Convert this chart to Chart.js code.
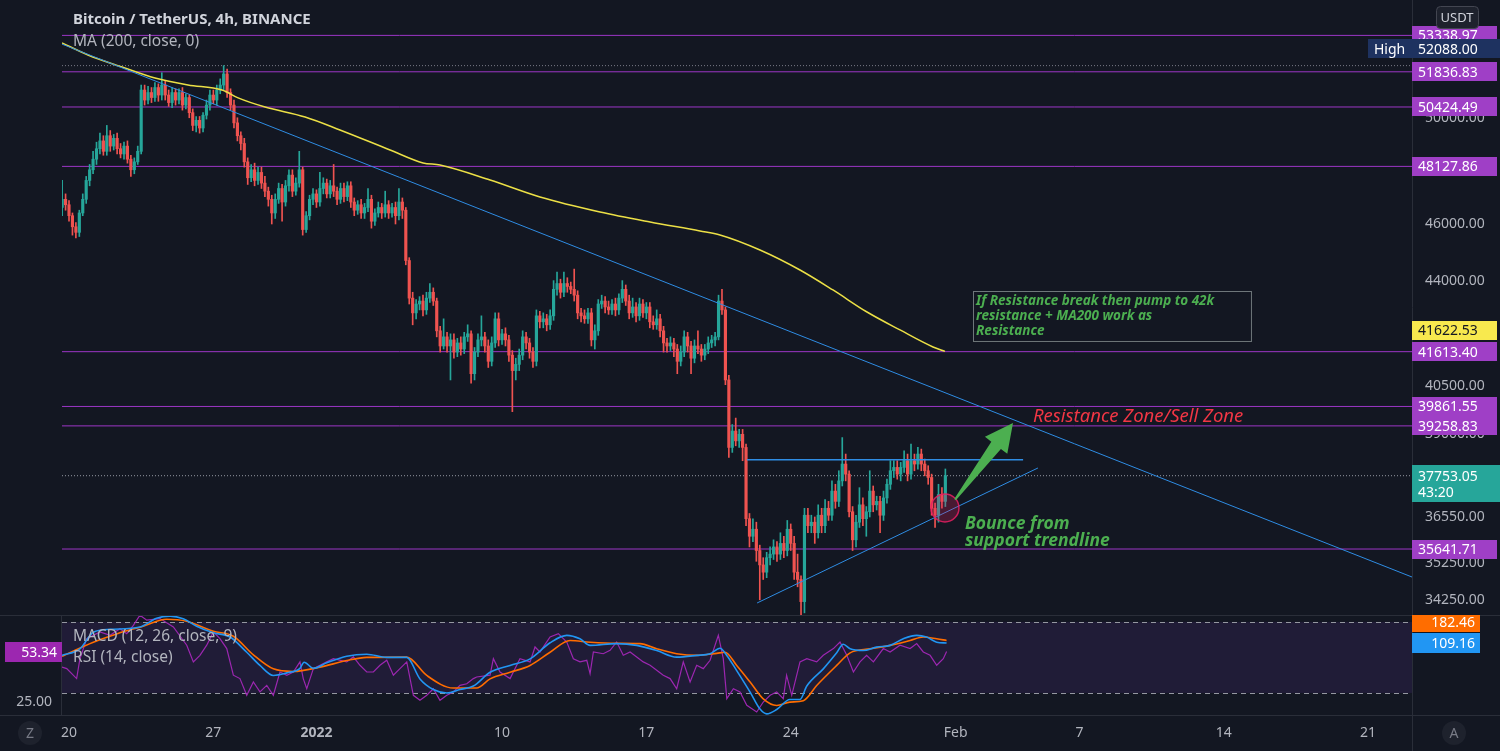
<!DOCTYPE html>
<html>
<head>
<meta charset="utf-8">
<script src="https://cdn.jsdelivr.net/npm/chart.js@4.4.0/dist/chart.umd.min.js"></script>
<style>
  body { margin: 0; background: #131722; width: 1500px; height: 751px; overflow: hidden; position: relative; }
  canvas { position: absolute; left: 0; }
  #main { top: 0; }
  #pane { top: 615px; }
</style>
</head>
<body>
<canvas id="main" width="1500" height="615"></canvas>
<canvas id="pane" width="1500" height="136"></canvas>
<script>
const FONT = '"Noto Sans", "Open Sans", sans-serif';

// 4h candles, first one Dec 19 16:00 (days counted from Dec 20 00:00)
const firstCandleDay = -1 / 3;
const candleStep = 1 / 6;
const firstOpen = 46600;
const closes = [
  46900, 46700, 46300, 45900, 45700, 46400, 46900, 47600, 48000, 48400,
  48800, 49100, 48700, 49300, 48900, 49200, 48800, 48600, 48900, 48400,
  48000, 48300, 48700, 51100, 50700, 51000, 50800, 51200, 50900, 51300,
  50900, 50600, 51000, 50700, 51000, 50500, 50800, 50200, 49700, 49900,
  49600, 50100, 50500, 50900, 50700, 51100, 51300, 51750, 51000, 50500,
  49800, 49300, 49000, 48300, 47700, 48000, 47600, 47900, 47500, 47200,
  46900, 46400, 46900, 47300, 46800, 47400, 47800, 47200, 47500, 48000,
  45800, 46300, 46900, 47100, 46800, 47300, 47500, 47100, 47400, 47200,
  46900, 47300, 47000, 47400, 46800, 46500, 46700, 46400, 46600, 46900,
  46100, 46400, 46600, 46400, 46700, 46400, 46600, 46300, 46800, 46500,
  44700, 43400, 42900, 43200, 43300, 43000, 43400, 43600, 43300, 42300,
  41800, 42100, 41800, 42000, 41600, 41900, 41700, 42100, 42200, 40900,
  41600, 42000, 42100, 41800, 41300, 41900, 42700, 42000, 42200, 42000,
  41500, 41000, 41200, 41500, 42100, 41900, 41600, 41300, 42800, 42600,
  42700, 42500, 42800, 43700, 43900, 43600, 43900, 43800, 43700, 43500,
  42900, 42800, 42700, 42900, 42000, 42300, 43200, 43300, 43100, 43000,
  43200, 43000, 43400, 43700, 43300, 42900, 43100, 42800, 43200, 42900,
  43100, 42600, 42500, 42700, 42300, 41900, 41800, 41900, 41700, 41300,
  41600, 42100, 41800, 41400, 41800, 41700, 41500, 41700, 41900, 42000,
  42100, 43300, 43000, 40700, 38600, 39100, 38800, 39000, 38600, 36500,
  36000, 36200, 35600, 35200, 35000, 35400, 35500, 35700, 35500, 35800,
  35600, 36200, 35800, 35000, 34800, 34200, 36600, 36300, 36400, 36100,
  36600, 36300, 36800, 36600, 37300, 37000, 37600, 38100, 37800, 36700,
  35900, 36400, 36900, 36500, 36700, 37300, 36900, 37000, 36600, 37100,
  37500, 37900, 38000, 37800, 38000, 38200, 37800, 38200, 38100, 38400,
  38100, 37900, 37700, 36800, 36600, 37200, 37000, 37753.05
];
// wick lengths above the body top / below the body bottom (USDT)
const wickUp = [
  700, 200, 150, 100, 150, 100, 200, 150, 200, 300,
  250, 300, 200, 400, 200, 150, 200, 200, 150, 200,
  150, 150, 200, 200, 200, 250, 200, 200, 150, 500,
  150, 200, 200, 150, 150, 200, 150, 100, 150, 150,
  150, 100, 200, 200, 200, 200, 250, 338, 200, 150,
  200, 200, 150, 200, 150, 200, 250, 200, 200, 250,
  150, 150, 200, 200, 150, 200, 200, 200, 200, 700,
  100, 150, 150, 200, 150, 600, 200, 150, 200, 800,
  150, 200, 200, 150, 150, 150, 150, 200, 150, 400,
  150, 150, 200, 150, 500, 150, 150, 200, 500, 150,
  100, 100, 200, 150, 150, 200, 200, 300, 150, 100,
  150, 600, 150, 200, 200, 150, 200, 150, 300, 100,
  150, 200, 700, 150, 200, 200, 200, 200, 150, 200,
  150, 150, 200, 200, 200, 150, 150, 150, 200, 150,
  200, 150, 200, 300, 400, 150, 400, 200, 150, 700,
  150, 150, 200, 150, 150, 200, 150, 200, 150, 200,
  150, 200, 150, 300, 150, 200, 300, 150, 200, 150,
  150, 150, 200, 300, 150, 150, 150, 200, 150, 150,
  200, 200, 150, 150, 200, 500, 150, 150, 200, 150,
  150, 200, 400, 100, 150, 200, 400, 150, 150, 100,
  150, 300, 200, 150, 200, 150, 200, 200, 150, 300,
  200, 250, 150, 200, 500, 100, 200, 200, 200, 150,
  300, 200, 250, 200, 300, 200, 300, 800, 300, 100,
  150, 200, 500, 200, 150, 600, 150, 150, 150, 200,
  150, 300, 200, 200, 150, 300, 200, 500, 200, 200,
  150, 150, 150, 100, 150, 300, 200, 200
];
const wickDn = [
  300, 200, 200, 300, 200, 150, 100, 150, 200, 150,
  200, 200, 150, 150, 200, 150, 200, 150, 200, 150,
  250, 150, 100, 100, 200, 150, 200, 150, 250, 200,
  200, 150, 200, 200, 150, 200, 150, 200, 200, 250,
  200, 150, 150, 200, 150, 200, 150, 200, 200, 200,
  200, 200, 250, 200, 250, 150, 200, 150, 200, 200,
  250, 400, 200, 150, 700, 150, 200, 200, 150, 150,
  200, 100, 150, 200, 200, 150, 200, 150, 150, 200,
  200, 150, 200, 150, 200, 200, 150, 200, 200, 150,
  250, 150, 150, 200, 150, 200, 150, 300, 150, 300,
  150, 200, 400, 200, 200, 200, 150, 150, 150, 200,
  200, 100, 200, 1100, 200, 150, 200, 150, 150, 300,
  200, 150, 200, 200, 200, 150, 150, 200, 150, 200,
  200, 1300, 300, 200, 150, 200, 200, 200, 150, 200,
  200, 200, 150, 150, 200, 200, 150, 200, 150, 200,
  200, 200, 150, 150, 200, 300, 150, 150, 200, 150,
  150, 200, 150, 150, 150, 200, 150, 200, 150, 150,
  200, 200, 150, 150, 200, 300, 200, 150, 250, 400,
  150, 150, 200, 500, 150, 150, 200, 150, 150, 150,
  200, 100, 150, 150, 300, 150, 150, 200, 400, 200,
  300, 150, 300, 950, 200, 150, 200, 150, 200, 150,
  200, 150, 200, 200, 200, 1200, 300, 200, 200, 300,
  150, 200, 200, 150, 150, 200, 150, 150, 200, 150,
  300, 200, 150, 200, 500, 150, 200, 150, 500, 150,
  150, 150, 200, 150, 200, 150, 200, 150, 200, 150,
  200, 150, 200, 200, 350, 200, 200, 150
];

// MA 200
const maDays = [-0.34, 0.92, 2.57, 4.17, 5.77, 7.42, 8.20, 9.51, 11.45, 13.14, 15.57, 17.17, 17.99,
  20.42, 22.84, 25.75, 28.18, 30.60, 31.57, 33.51, 35.45, 37.05, 38.70, 40.30, 41.90, 42.48];
const maVals = [53024, 52527, 52031, 51584, 51303, 51102, 50786, 50422, 50029, 49523, 48751, 48259, 48179,
  47615, 46986, 46436, 46072, 45748, 45606, 45071, 44369, 43678, 42929, 42329, 41768, 41622.53];

// horizontal levels and trend lines
const levelPrices = [53338.97, 51836.83, 50424.49, 48127.86, 41613.40, 39861.55, 39258.83, 35641.71];
const highPrice = 52088.00;
const lastPrice = 37753.05;
const resistDays = [-0.34, 65.13];
const resistVals = [52975, 34867];
const supportDays = [33.37, 46.99];
const supportVals = [34164, 37983];
const rangeDays = [32.88, 46.27];
const rangeVals = [38228, 38228];

// axis ticks
const priceTicks = [50000, 46000, 44000, 40500, 39000, 36550, 35250, 34250];
const dayTicks = [0, 7, 12, 21, 28, 35, 43, 49, 56, 63];
const dayLabels = ['20', '27', '2022', '10', '17', '24', 'Feb', '7', '14', '21'];

// lower pane: MACD (12,26,9) and RSI (14)
const macdDays = [-0.34, 0.53, 1.18, 1.99, 3.44, 4.25, 4.90, 5.54, 6.19, 7.00, 7.81, 8.62, 9.26, 9.91, 10.56,
  11.20, 11.40, 11.85, 12.50, 13.47, 14.44, 15.41, 16.38, 17.02, 17.67, 18.32, 18.96, 19.61, 20.42, 21.39,
  22.36, 23.33, 24.14, 24.78, 25.27, 26.56, 27.53, 28.50, 29.47, 30.44, 31.09, 31.57, 31.90, 32.38, 33.03,
  33.51, 33.84, 34.32, 34.96, 35.45, 35.78, 36.58, 37.23, 37.55, 37.88, 38.52, 39.17, 39.82, 40.46, 41.11,
  41.59, 42.08, 42.56];
const macdVals = [66, 89, 147, 157, 165, 196, 203, 194, 168, 145, 130, 77, 31, -4, 5,
  21, 42, 21, 40, 63, 70, 59, 59, -16, -53, -65, -53, -41, 7, 31,
  54, 110, 136, 124, 101, 107, 101, 83, 60, 66, 72, 91, 66, 13, -62,
  -121, -138, -123, -88, -88, -41, 19, 75, 105, 89, 83, 95, 101, 124, 136,
  130, 112, 109.16];
const signalDays = [-0.34, 1.18, 2.31, 3.60, 4.73, 5.70, 7.00, 7.97, 8.94, 9.91, 10.88, 12.17, 13.47, 14.44,
  16.38, 17.35, 18.64, 19.77, 20.42, 21.39, 22.36, 23.33, 24.30, 25.27, 26.56, 27.69, 28.50, 29.47, 30.44,
  31.41, 31.81, 32.38, 33.03, 33.67, 34.32, 34.96, 35.61, 36.26, 37.23, 37.88, 38.85, 39.82, 40.79, 41.43,
  42.08, 42.56];
const signalVals = [63, 112, 141, 168, 192, 185, 150, 133, 68, 19, 10, 25, 48, 59,
  60, -4, -48, -48, -16, 7, 31, 77, 118, 112, 108, 107, 89, 72, 66,
  73, 77, 31, -27, -86, -109, -97, -92, -39, 31, 75, 89, 101, 118, 130,
  124, 118];
const rsiDays = [-0.34, -0.11, 0.37, 0.53, 0.86, 1.50, 1.99, 2.47, 2.80, 3.12,
  3.44, 3.77, 4.41, 5.06, 5.71, 6.03, 6.35, 6.68, 7.00, 7.32,
  7.65, 7.97, 8.29, 8.62, 8.94, 9.26, 9.59, 9.91, 10.23, 10.56,
  10.88, 11.20, 11.36, 11.53, 11.85, 12.17, 12.50, 12.82, 13.47, 13.79,
  14.11, 14.44, 14.76, 15.08, 15.41, 15.73, 16.05, 16.38, 16.70, 17.02,
  17.35, 17.67, 17.99, 18.32, 18.64, 18.96, 19.29, 19.61, 19.77, 20.42,
  20.58, 20.90, 21.39, 21.87, 22.36, 22.60, 22.84, 23.33, 23.73, 24.14,
  24.46, 24.78, 25.11, 25.27, 25.43, 25.91, 26.24, 26.56, 26.88, 27.21,
  27.53, 27.85, 28.18, 28.50, 28.82, 29.15, 29.47, 29.79, 30.12, 30.44,
  30.76, 31.09, 31.49, 31.73, 31.90, 32.22, 32.54, 32.87, 33.35, 33.67,
  34.00, 34.32, 34.64, 34.80, 35.05, 35.45, 35.78, 36.26, 36.58, 37.07,
  37.39, 37.72, 38.04, 38.36, 38.68, 39.01, 39.49, 39.82, 40.30, 40.79,
  41.11, 41.43, 41.76, 42.08, 42.40, 42.56];
const rsiVals = [44.6, 43.7, 38.1, 49.3, 60.6, 64.4, 62.5, 66.2, 63.4, 68.1,
  73.8, 71.0, 71.9, 67.2, 56.9, 47.5, 51.2, 56.9, 64.4, 60.6,
  55.0, 40.0, 38.1, 28.7, 36.2, 30.6, 34.3, 28.7, 41.8, 40.0,
  41.8, 47.5, 38.1, 32.4, 43.7, 45.6, 47.5, 49.3, 47.5, 50.3,
  45.6, 41.8, 41.8, 45.6, 48.4, 40.0, 43.7, 47.5, 28.7, 25.9,
  28.7, 32.4, 25.9, 28.7, 30.6, 34.3, 35.2, 38.1, 39.0, 40.0,
  49.3, 41.8, 38.1, 49.3, 47.5, 55.9, 53.1, 61.5, 63.4, 58.7,
  49.3, 47.5, 48.4, 40.9, 53.1, 52.1, 54.0, 58.7, 51.2, 53.1,
  50.3, 47.5, 45.6, 42.8, 40.0, 38.1, 32.4, 47.5, 36.2, 45.6,
  43.7, 48.4, 62.5, 49.3, 26.8, 32.4, 30.6, 23.1, 19.3, 24.9,
  28.7, 30.6, 26.8, 40.0, 28.7, 47.5, 49.3, 47.5, 51.2, 55.0,
  58.7, 51.2, 41.8, 47.5, 51.2, 47.5, 55.0, 53.1, 56.9, 55.0,
  57.8, 53.1, 51.2, 45.6, 49.3, 53.34];
const rsiLast = 53.34;
const macdLabel = 109.16;
const signalLabel = 182.46;

// view
const viewDays = [-0.34, 65.13];
const viewPrice = [33843, 54842];

// drawings placed in chart coordinates (day, price)
const notes = {
  circle: { x: 42.48, y: 36810 },
  arrowTail: { x: 42.97, y: 37050 },
  arrowTip: { x: 45.78, y: 39349 },
  sellZone: { x: 46.75, y: 39530 },
  bounce1: { x: 43.45, y: 36350 },
  bounce2: { x: 43.45, y: 35866 },
  boxTopLeft: { x: 43.84, y: 43646 },
  boxBottomRight: { x: 57.32, y: 41967 }
};

const UP = '#26a69a';
const DOWN = '#ef5350';
const LEVEL = '#9c36c6';

const opens = closes.map((c, i) => (i === 0 ? firstOpen : closes[i - 1]));
const candleX = closes.map((_, i) => firstCandleDay + i * candleStep);
const highs = closes.map((c, i) => Math.max(opens[i], c) + wickUp[i]);
const lows = closes.map((c, i) => Math.min(opens[i], c) - wickDn[i]);
const candleColors = closes.map((c, i) => (c >= opens[i] ? UP : DOWN));

const pts = (xs, ys) => xs.map((x, i) => ({ x, y: ys[i] }));
const hline = (p) => [{ x: viewDays[0], y: p }, { x: viewDays[1], y: p }];

function labelBox(ctx, x, y, w, h, bg, fg, text, align) {
  ctx.fillStyle = bg;
  ctx.fillRect(x, Math.round(y - h / 2), w, h);
  ctx.fillStyle = fg;
  ctx.textBaseline = 'middle';
  ctx.textAlign = align || 'left';
  ctx.fillText(text, align === 'right' ? x + w - 5 : x + 6, y + 1);
}

const mainDecor = {
  id: 'mainDecor',
  afterDraw(chart) {
    const { ctx, chartArea: a } = chart;
    const xs = chart.scales.x, ys = chart.scales.y;
    const px = (p) => ({ x: xs.getPixelForValue(p.x), y: ys.getPixelForValue(p.y) });
    ctx.save();

    // header
    ctx.textBaseline = 'middle';
    ctx.textAlign = 'left';
    ctx.fillStyle = '#d1d4dc';
    ctx.font = `bold 15px ${FONT}`;
    ctx.fillText('Bitcoin / TetherUS, 4h, BINANCE', 73, 20);
    ctx.fillStyle = '#b2b5be';
    ctx.font = `15.5px ${FONT}`;
    ctx.fillText('MA (200, close, 0)', 73, 42);

    // circle
    const c = px(notes.circle);
    ctx.beginPath();
    ctx.arc(c.x, c.y, 14, 0, Math.PI * 2);
    ctx.fillStyle = 'rgba(233, 30, 99, 0.25)';
    ctx.fill();
    ctx.lineWidth = 1.5;
    ctx.strokeStyle = 'rgba(233, 30, 99, 0.85)';
    ctx.stroke();

    // arrow
    const t = px(notes.arrowTail), p = px(notes.arrowTip);
    const dx = p.x - t.x, dy = p.y - t.y, len = Math.hypot(dx, dy);
    const ux = dx / len, uy = dy / len, nx = -uy, ny = ux;
    const bx = p.x - ux * 28, by = p.y - uy * 28;
    ctx.beginPath();
    ctx.moveTo(t.x + nx * 1, t.y + ny * 1);
    ctx.lineTo(bx + nx * 6, by + ny * 6);
    ctx.lineTo(bx + nx * 14, by + ny * 14);
    ctx.lineTo(p.x, p.y);
    ctx.lineTo(bx - nx * 14, by - ny * 14);
    ctx.lineTo(bx - nx * 6, by - ny * 6);
    ctx.lineTo(t.x - nx * 1, t.y - ny * 1);
    ctx.closePath();
    ctx.fillStyle = '#4caf50';
    ctx.fill();

    // texts
    ctx.textBaseline = 'middle';
    ctx.textAlign = 'left';
    ctx.font = `italic 18.5px ${FONT}`;
    ctx.fillStyle = '#f23645';
    const s = px(notes.sellZone);
    ctx.fillText('Resistance Zone/Sell Zone', s.x, s.y);
    ctx.font = `italic bold 17.5px ${FONT}`;
    ctx.fillStyle = '#4caf50';
    const b1 = px(notes.bounce1), b2 = px(notes.bounce2);
    ctx.fillText('Bounce from', b1.x, b1.y);
    ctx.fillText('support trendline', b2.x, b2.y);

    // note box
    const tl = px(notes.boxTopLeft), br = px(notes.boxBottomRight);
    ctx.strokeStyle = 'rgba(150, 160, 160, 0.7)';
    ctx.lineWidth = 1;
    ctx.strokeRect(Math.round(tl.x) + 0.5, Math.round(tl.y) + 0.5, br.x - tl.x, br.y - tl.y);
    ctx.font = `italic bold 13.5px ${FONT}`;
    ctx.fillStyle = '#4caf50';
    ['If Resistance break then pump to 42k', 'resistance + MA200 work as', 'Resistance']
      .forEach((line, i) => ctx.fillText(line, tl.x + 3, tl.y + 10 + i * 15));

    // axis separators
    ctx.strokeStyle = '#2a2e39';
    ctx.beginPath();
    ctx.moveTo(a.right + 0.5, 0);
    ctx.lineTo(a.right + 0.5, chart.height);
    ctx.stroke();

    // price axis labels
    ctx.font = `14px ${FONT}`;
    const ax = a.right;
    levelPrices.forEach((lv) => {
      labelBox(ctx, ax, ys.getPixelForValue(lv), 85, 19, '#9f3fc6', '#ffffff', lv.toFixed(2));
    });
    const hy = ys.getPixelForValue(highPrice) - 17;
    labelBox(ctx, ax - 44, hy, 44, 19, '#1e3260', '#ffffff', 'High');
    labelBox(ctx, ax, hy, 88, 19, '#1e3260', '#ffffff', highPrice.toFixed(2));
    const my = ys.getPixelForValue(maVals[maVals.length - 1]) - 21;
    labelBox(ctx, ax, my, 85, 19, '#f8e94e', '#131722', maVals[maVals.length - 1].toFixed(2));
    const ly = ys.getPixelForValue(lastPrice);
    ctx.fillStyle = UP;
    ctx.fillRect(ax, Math.round(ly - 11), 88, 37);
    ctx.fillStyle = '#ffffff';
    ctx.textAlign = 'left';
    ctx.fillText(lastPrice.toFixed(2), ax + 6, ly + 1);
    ctx.fillText('43:20', ax + 6, ly + 17);

    // currency badge
    ctx.fillStyle = '#1e222d';
    ctx.strokeStyle = '#434651';
    ctx.beginPath();
    ctx.roundRect(1436.5, 6.5, 42, 22, 4);
    ctx.fill();
    ctx.stroke();
    ctx.fillStyle = '#d1d4dc';
    ctx.font = `13px ${FONT}`;
    ctx.textAlign = 'center';
    ctx.fillText('USDT', 1457, 18);
    ctx.restore();
  }
};

new Chart(document.getElementById('main'), {
  type: 'bar',
  data: {
    datasets: [
      ...levelPrices.map((lv) => ({
        type: 'line', data: hline(lv), borderColor: LEVEL, borderWidth: 1, pointRadius: 0, order: 30
      })),
      { type: 'line', data: hline(highPrice), borderColor: '#787b86', borderWidth: 1, borderDash: [1, 2], pointRadius: 0, order: 29 },
      { type: 'line', data: hline(lastPrice), borderColor: '#9598a1', borderWidth: 1, borderDash: [1, 2], pointRadius: 0, order: 29 },
      {
        type: 'bar', data: candleX.map((x, i) => ({ x, y: [lows[i], highs[i]] })),
        backgroundColor: candleColors, barThickness: 1, grouped: false, order: 6
      },
      {
        type: 'bar', data: candleX.map((x, i) => ({ x, y: [opens[i], closes[i]] })),
        backgroundColor: candleColors, barThickness: 2.5, minBarLength: 1, grouped: false, order: 5
      },
      {
        type: 'line', data: pts(maDays, maVals), borderColor: '#ece046', borderWidth: 1.5,
        pointRadius: 0, cubicInterpolationMode: 'monotone', order: 2
      },
      { type: 'line', data: pts(resistDays, resistVals), borderColor: '#2f8de4', borderWidth: 1, pointRadius: 0, order: 1 },
      { type: 'line', data: pts(supportDays, supportVals), borderColor: '#2f8de4', borderWidth: 1, pointRadius: 0, order: 1 },
      { type: 'line', data: pts(rangeDays, rangeVals), borderColor: '#2f8de4', borderWidth: 1.5, pointRadius: 0, order: 1 }
    ]
  },
  options: {
    responsive: false,
    animation: false,
    events: [],
    layout: { padding: { left: 62, right: 0, top: 0, bottom: 0 } },
    plugins: { legend: { display: false }, tooltip: { enabled: false } },
    scales: {
      x: {
        type: 'linear', min: viewDays[0], max: viewDays[1], offset: false, display: false,
        grid: { display: false }
      },
      y: {
        type: 'logarithmic', position: 'right', min: viewPrice[0], max: viewPrice[1],
        afterBuildTicks: (s) => { s.ticks = priceTicks.map((v) => ({ value: v })); },
        afterFit: (s) => { s.width = 88; s.paddingTop = 0; s.paddingBottom = 0; },
        ticks: {
          callback: (v) => Number(v).toFixed(2), color: '#b2b5be', padding: 13,
          font: { family: FONT, size: 14 }
        },
        grid: { display: false, drawTicks: false },
        border: { display: false }
      }
    }
  },
  plugins: [mainDecor]
});

const paneDecor = {
  id: 'paneDecor',
  beforeDatasetsDraw(chart) {
    const { ctx, chartArea: a } = chart;
    const r = chart.scales.rsi;
    const y70 = r.getPixelForValue(70), y30 = r.getPixelForValue(30);
    ctx.save();
    ctx.fillStyle = 'rgba(126, 60, 200, 0.13)';
    ctx.fillRect(a.left, y70, a.right - a.left, y30 - y70);
    ctx.strokeStyle = '#9598a1';
    ctx.setLineDash([5, 4]);
    ctx.lineWidth = 1;
    [y70, y30].forEach((yy) => {
      ctx.beginPath();
      ctx.moveTo(a.left, Math.round(yy) + 0.5);
      ctx.lineTo(a.right, Math.round(yy) + 0.5);
      ctx.stroke();
    });
    ctx.restore();
  },
  afterDraw(chart) {
    const { ctx, chartArea: a } = chart;
    const r = chart.scales.rsi, m = chart.scales.macd;
    ctx.save();
    ctx.strokeStyle = '#2a2e39';
    ctx.lineWidth = 1;
    ctx.beginPath();
    ctx.moveTo(0, 0.5); ctx.lineTo(chart.width, 0.5);
    ctx.moveTo(0, a.bottom + 0.5); ctx.lineTo(chart.width, a.bottom + 0.5);
    ctx.moveTo(a.right + 0.5, 0); ctx.lineTo(a.right + 0.5, chart.height);
    ctx.moveTo(a.left - 0.5, 0); ctx.lineTo(a.left - 0.5, a.bottom);
    ctx.stroke();

    // cover the cut-off start of the date axis
    ctx.fillStyle = '#131722';
    ctx.fillRect(0, a.bottom + 1, a.left - 2, chart.height - a.bottom);

    ctx.font = `15.5px ${FONT}`;
    ctx.fillStyle = '#b2b5be';
    ctx.textBaseline = 'middle';
    ctx.textAlign = 'left';
    ctx.fillText('MACD (12, 26, close, 9)', 73, 22);
    ctx.fillText('RSI (14, close)', 73, 43);

    ctx.font = `14px ${FONT}`;
    labelBox(ctx, 5, r.getPixelForValue(rsiLast), 57, 20, '#9c27b0', '#ffffff', rsiLast.toFixed(2), 'right');
    labelBox(ctx, a.right, m.getPixelForValue(signalLabel), 68, 20, '#ff6d00', '#ffffff', signalLabel.toFixed(2), 'right');
    labelBox(ctx, a.right, m.getPixelForValue(macdLabel), 68, 20, '#2196f3', '#ffffff', macdLabel.toFixed(2), 'right');

    // chart buttons
    const btn = (cx, letter) => {
      ctx.beginPath();
      ctx.arc(cx, a.bottom + 18, 12, 0, Math.PI * 2);
      ctx.fillStyle = '#1e222d';
      ctx.fill();
      ctx.fillStyle = '#787b86';
      ctx.textAlign = 'center';
      ctx.fillText(letter, cx, a.bottom + 19);
    };
    btn(30, 'Z');
    btn(1454, 'A');
    ctx.restore();
  }
};

new Chart(document.getElementById('pane'), {
  type: 'line',
  data: {
    datasets: [
      { data: pts(rsiDays, rsiVals), yAxisID: 'rsi', borderColor: '#9c27b0', borderWidth: 1.2, pointRadius: 0, order: 3 },
      { data: pts(signalDays, signalVals), yAxisID: 'macd', borderColor: '#ff6d00', borderWidth: 1.6, pointRadius: 0, cubicInterpolationMode: 'monotone', order: 2 },
      { data: pts(macdDays, macdVals), yAxisID: 'macd', borderColor: '#2196f3', borderWidth: 1.6, pointRadius: 0, cubicInterpolationMode: 'monotone', order: 1 }
    ]
  },
  options: {
    responsive: false,
    animation: false,
    events: [],
    layout: { padding: 0 },
    plugins: { legend: { display: false }, tooltip: { enabled: false } },
    scales: {
      x: {
        type: 'linear', min: viewDays[0], max: viewDays[1], offset: false,
        afterBuildTicks: (s) => { s.ticks = dayTicks.map((v) => ({ value: v })); },
        afterFit: (s) => { s.height = 36; s.paddingLeft = 0; s.paddingRight = 0; },
        ticks: {
          autoSkip: false, maxRotation: 0, padding: 10, color: '#b2b5be',
          callback: (v, i) => dayLabels[i],
          font: (c) => ({ family: FONT, size: 14, weight: c.tick && c.tick.value === 12 ? 'bold' : 'normal' })
        },
        grid: { display: false, drawTicks: false },
        border: { display: false }
      },
      rsi: {
        type: 'linear', position: 'left', min: 17.6, max: 73.9,
        afterBuildTicks: (s) => { s.ticks = [{ value: 25 }]; },
        afterFit: (s) => { s.width = 62; s.paddingTop = 0; s.paddingBottom = 0; },
        ticks: { callback: (v) => Number(v).toFixed(2), color: '#b2b5be', padding: 10, font: { family: FONT, size: 14 } },
        grid: { display: false, drawTicks: false },
        border: { display: false }
      },
      macd: {
        type: 'linear', position: 'right', min: -142, max: 207,
        afterFit: (s) => { s.width = 88; s.paddingTop = 0; s.paddingBottom = 0; },
        ticks: { display: false },
        grid: { display: false, drawTicks: false },
        border: { display: false }
      }
    }
  },
  plugins: [paneDecor]
});
</script>
</body>
</html>
